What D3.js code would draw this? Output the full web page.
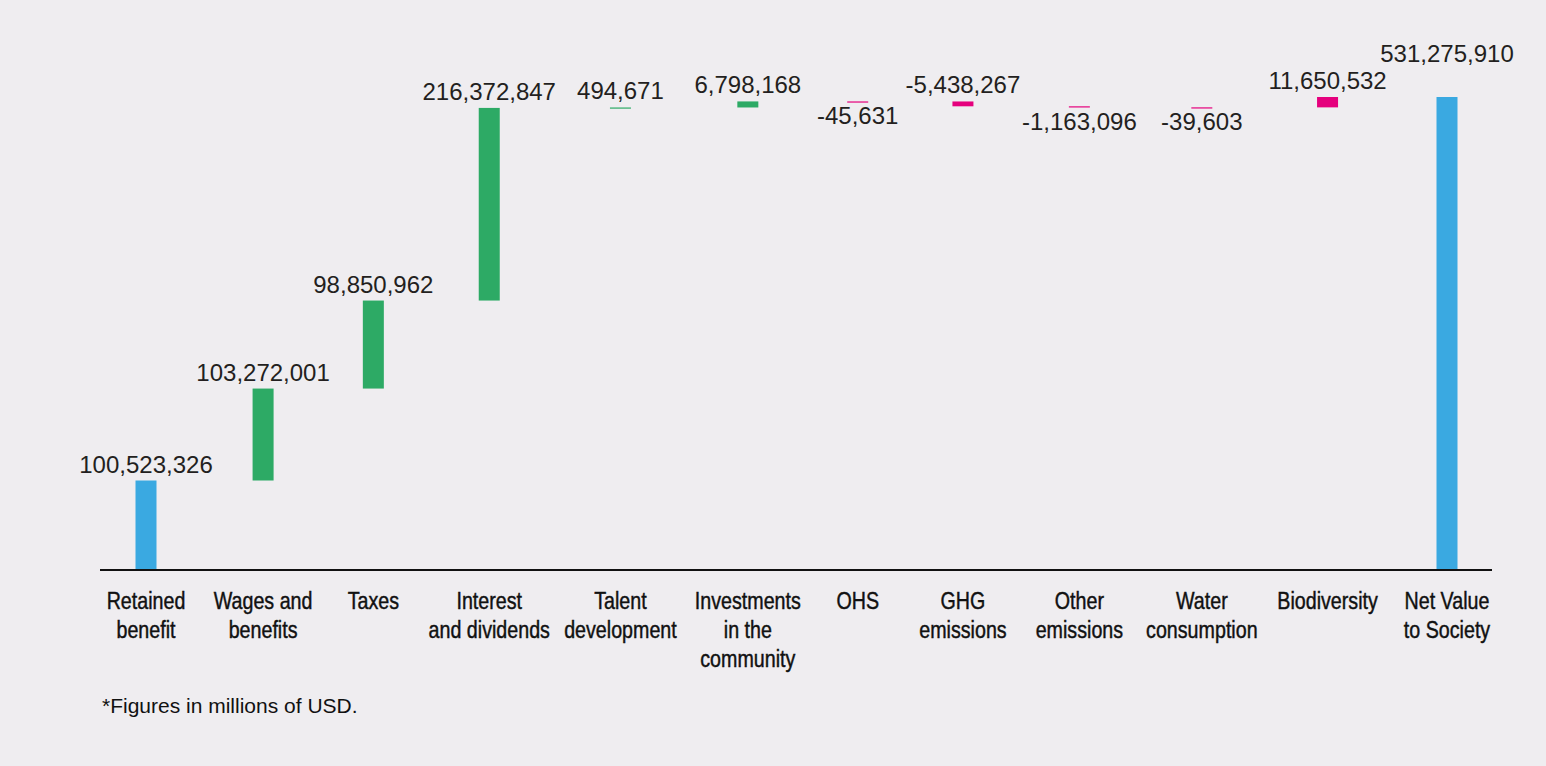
<!DOCTYPE html>
<html>
<head>
<meta charset="utf-8">
<script src="https://cdn.jsdelivr.net/npm/d3@7"></script>
<style>
  html, body { margin: 0; padding: 0; background: #efedf0; }
  svg { display: block; }
</style>
</head>
<body>
<script>
// waterfall data (USD)
const categories = [
  "Retained\nbenefit", "Wages and\nbenefits", "Taxes", "Interest\nand dividends",
  "Talent\ndevelopment", "Investments\nin the\ncommunity", "OHS", "GHG\nemissions",
  "Other\nemissions", "Water\nconsumption", "Biodiversity", "Net Value\nto Society"
];
const values = [
  100523326, 103272001, 98850962, 216372847,
  494671, 6798168, -45631, -5438267,
  -1163096, -39603, 11650532, 531275910
];
const barTypes = [
  "total", "contribution", "contribution", "contribution",
  "contribution", "contribution", "impact", "impact",
  "impact", "impact", "impact", "total"
];
const footnote = "*Figures in millions of USD.";

// where each value label sits
const labelPlacement = [
  "above", "above", "above", "above",
  "above", "above", "below", "above",
  "below", "below", "above", "raised"
];

const width = 1546, height = 766;
const baseY = 570;
const xLeft = 146, xRight = 1447;
const narrow = 0.82;   // fake a condensed face

const colors = { total: "#3aa9e1", contribution: "#2daa65", impact: "#e5007d" };

const fmt = d3.formatLocale({ decimal: ".", thousands: ",", grouping: [3], currency: ["$", ""], minus: "-" }).format(",");

// build running totals
let cum = 0;
const bars = categories.map((c, i) => {
  let start, end;
  if (barTypes[i] === "total") {
    start = 0; end = values[i];
  } else {
    start = cum; end = cum + values[i];
  }
  cum = end;
  return { cat: c, value: values[i], type: barTypes[i], start, end, place: labelPlacement[i] };
});

const svg = d3.select("body").append("svg")
  .attr("width", width).attr("height", height);

// category labels first, so their widths can set the spacing
const catG = svg.append("g").selectAll("g")
  .data(bars)
  .enter()
  .append("g");

const catText = catG.append("text")
  .attr("text-anchor", "middle")
  .attr("transform", "scale(" + narrow + ",1)")
  .attr("font-family", "'Liberation Sans', Arial, sans-serif")
  .attr("font-size", 24)
  .attr("fill", "#111")
  .attr("stroke", "#111")
  .attr("stroke-width", 0.45);

catText.selectAll("tspan")
  .data(d => d.cat.split("\n"))
  .enter()
  .append("tspan")
  .attr("x", 0)
  .attr("y", (d, i) => i * 29)
  .text(d => d);

const labelW = [];
catText.each(function () {
  let w = 0;
  d3.select(this).selectAll("tspan").each(function () {
    w = Math.max(w, this.getComputedTextLength());
  });
  labelW.push(w * narrow);
});

// half even spacing, half packed by label width
let raw = 0;
const rawCenters = labelW.map((w, i) => {
  if (i > 0) raw += (labelW[i - 1] + w) / 2;
  return raw;
});
const n = labelW.length;
const pad = ((xRight - xLeft) - raw) / (n - 1);
const step = (xRight - xLeft) / (n - 1);
const centers = rawCenters.map((c, i) => xLeft + ((c + pad * i) + step * i) / 2);

const x = d3.scaleOrdinal()
  .domain(categories)
  .range(centers);

catG.attr("transform", d => "translate(" + x(d.cat) + "," + (baseY + 39) + ")");

const y = d3.scaleLinear()
  .domain([0, d3.max(bars, d => Math.max(d.start, d.end))])
  .range([baseY, 97]);

const barW = 21;

svg.append("g").selectAll("rect")
  .data(bars)
  .enter()
  .append("rect")
  .attr("x", d => x(d.cat) - barW / 2)
  .attr("y", d => y(Math.max(d.start, d.end)))
  .attr("width", barW)
  .attr("height", d => Math.max(1.2, Math.abs(y(d.start) - y(d.end))))
  .attr("fill", d => colors[d.type]);

// baseline
svg.append("line")
  .attr("x1", 100).attr("x2", 1492)
  .attr("y1", baseY).attr("y2", baseY)
  .attr("stroke", "#111").attr("stroke-width", 2.2);

// value labels
svg.append("g").selectAll("text")
  .data(bars)
  .enter()
  .append("text")
  .attr("x", d => x(d.cat))
  .attr("y", d => {
    const top = y(Math.max(d.start, d.end));
    const bottom = y(Math.min(d.start, d.end));
    if (d.place === "below") return bottom + 23;
    if (d.place === "raised") return top - 35;
    return top - 8;
  })
  .attr("text-anchor", "middle")
  .attr("font-family", "'Liberation Sans', Arial, sans-serif")
  .attr("font-size", 24)
  .attr("fill", "#231f20")
  .text(d => fmt(d.value));

svg.append("text")
  .attr("x", 102).attr("y", 713)
  .attr("font-family", "'Liberation Sans', Arial, sans-serif")
  .attr("font-size", 21)
  .attr("fill", "#111")
  .text(footnote);
</script>
</body>
</html>
